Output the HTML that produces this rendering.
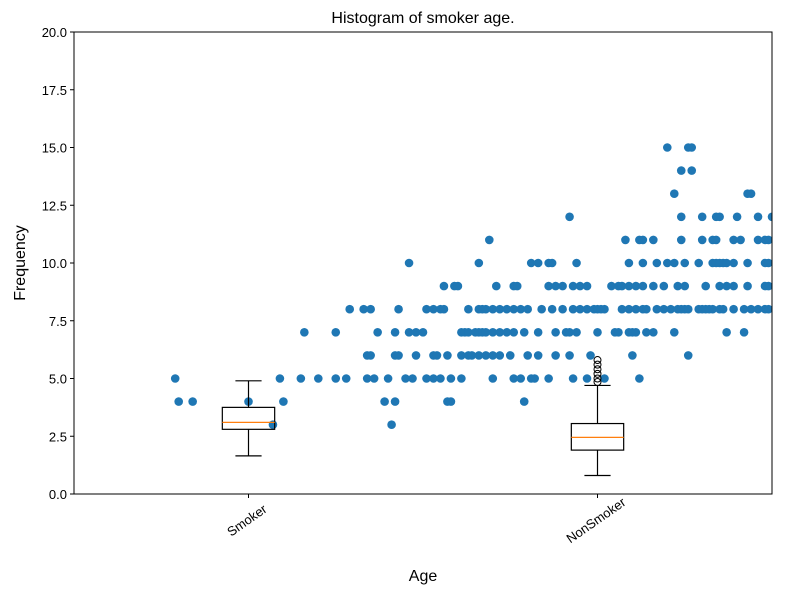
<!DOCTYPE html>
<html><head><meta charset="utf-8"><style>
body{margin:0;background:#fff;}
svg text{font-family:"Liberation Sans","DejaVu Sans",sans-serif;}
</style></head><body>
<svg id="chart" width="785" height="595" xmlns="http://www.w3.org/2000/svg">
<rect width="785" height="595" fill="#fff"/>
<text x="423" y="23" font-size="16" text-anchor="middle">Histogram of smoker age.</text>
<g id="plot"></g>
<text x="423" y="581" font-size="16" text-anchor="middle">Age</text>
<text transform="translate(25,263) rotate(-90)" font-size="16" text-anchor="middle">Frequency</text>
</svg>
<script>
const categories=["Smoker","NonSmoker"];
const yTicks=[0,2.5,5,7.5,10,12.5,15,17.5,20];
const yTickLabels=["0.0","2.5","5.0","7.5","10.0","12.5","15.0","17.5","20.0"];
const levels=[3,4,5,6,7,8,9,10,11,12,13,14,15];
const levelAges=[
[1.07,1.41],
[0.80,0.84,1.00,1.10,1.39,1.42,1.57,1.58,1.79],
[0.79,1.09,1.15,1.20,1.25,1.28,1.34,1.36,1.40,1.45,1.47,1.51,1.53,1.55,1.58,1.61,1.70,1.76,1.78,1.81,1.82,1.86,1.93,1.97,2.02,2.12],
[1.34,1.35,1.42,1.43,1.48,1.53,1.54,1.57,1.61,1.63,1.64,1.66,1.68,1.70,1.72,1.75,1.80,1.83,1.88,1.92,1.98,2.10,2.26],
[1.16,1.25,1.37,1.42,1.46,1.48,1.50,1.61,1.62,1.63,1.65,1.66,1.67,1.68,1.70,1.72,1.74,1.76,1.79,1.83,1.88,1.91,1.92,1.94,2.00,2.05,2.06,2.09,2.10,2.11,2.14,2.16,2.22,2.37,2.42],
[1.29,1.33,1.35,1.43,1.51,1.53,1.55,1.56,1.63,1.66,1.67,1.68,1.70,1.72,1.74,1.76,1.78,1.80,1.84,1.87,1.90,1.93,1.95,1.97,1.99,2.00,2.01,2.02,2.07,2.09,2.11,2.13,2.14,2.17,2.19,2.21,2.23,2.25,2.24,2.26,2.29,2.30,2.31,2.32,2.33,2.35,2.36,2.39,2.42,2.44,2.46,2.48,2.49],
[1.56,1.59,1.60,1.71,1.76,1.77,1.86,1.88,1.90,1.93,1.95,1.97,2.04,2.06,2.07,2.09,2.11,2.13,2.16,2.19,2.23,2.25,2.31,2.35,2.37,2.39,2.43,2.48,2.49],
[1.46,1.66,1.81,1.83,1.86,1.87,1.94,2.09,2.13,2.17,2.20,2.22,2.25,2.29,2.33,2.34,2.35,2.36,2.37,2.39,2.43,2.48,2.49],
[1.69,2.08,2.12,2.13,2.16,2.24,2.30,2.33,2.34,2.39,2.41,2.46,2.48,2.49],
[1.92,2.24,2.30,2.34,2.35,2.40,2.46,2.50],
[2.22,2.43,2.44],
[2.24,2.27],
[2.20,2.26,2.27]];
const boxWhiskerLow=[1.65,0.8];
const boxQ1=[2.8,1.9];
const boxMedian=[3.1,2.45];
const boxQ3=[3.75,3.05];
const boxWhiskerHigh=[4.9,4.7];
const nonSmokerFliers=[4.85,5.0,5.2,5.4,5.6,5.8];

const L=74,R=772,T=32,B=494,X0=0.5,X1=2.5,Y0=0,Y1=20;
const xs=v=>L+(v-X0)/(X1-X0)*(R-L);
const ys=v=>B-(v-Y0)/(Y1-Y0)*(B-T);
const NS="http://www.w3.org/2000/svg";
const g=document.getElementById('plot');
function mk(tag,at){const e=document.createElementNS(NS,tag);for(const k in at)e.setAttribute(k,at[k]);return e;}
const defs=mk('defs',{});const cp=mk('clipPath',{id:'clip'});cp.appendChild(mk('rect',{x:L,y:T,width:R-L,height:B-T}));defs.appendChild(cp);g.appendChild(defs);
const pts=mk('g',{'clip-path':'url(#clip)'});


g.appendChild(pts);
levels.forEach((lv,i)=>{levelAges[i].forEach(a=>{
 const c=mk('circle',{cx:xs(a),cy:ys(lv),r:4.3,fill:'#1f77b4'});
 
 
 pts.appendChild(c);});});
categories.forEach((cat,i)=>{
 const cx=xs(i+1),hw=(xs(1.075)-xs(1));
 const bg=mk('g',{stroke:'#000','stroke-width':1.2,fill:'none'});
 
 
 bg.appendChild(mk('rect',{x:cx-hw,y:ys(boxQ3[i]),width:2*hw,height:ys(boxQ1[i])-ys(boxQ3[i])}));
 bg.appendChild(mk('line',{x1:cx,x2:cx,y1:ys(boxQ1[i]),y2:ys(boxWhiskerLow[i])}));
 bg.appendChild(mk('line',{x1:cx,x2:cx,y1:ys(boxQ3[i]),y2:ys(boxWhiskerHigh[i])}));
 bg.appendChild(mk('line',{x1:cx-hw/2,x2:cx+hw/2,y1:ys(boxWhiskerLow[i]),y2:ys(boxWhiskerLow[i])}));
 bg.appendChild(mk('line',{x1:cx-hw/2,x2:cx+hw/2,y1:ys(boxWhiskerHigh[i]),y2:ys(boxWhiskerHigh[i])}));
 bg.appendChild(mk('line',{x1:cx-hw,x2:cx+hw,y1:ys(boxMedian[i]),y2:ys(boxMedian[i]),stroke:'#ff7f0e'}));
 g.appendChild(bg);
});
nonSmokerFliers.forEach(f=>{
 const c=mk('circle',{cx:xs(2),cy:ys(f),r:3.5,fill:'none',stroke:'#000','stroke-width':1});
 
 
 g.appendChild(c);});
const fr=mk('rect',{x:L,y:T,width:R-L,height:B-T,fill:'none',stroke:'#000','stroke-width':1});


g.appendChild(fr);
yTicks.forEach((t,i)=>{
 const y=ys(t);
 g.appendChild(mk('line',{x1:L-4,x2:L,y1:y,y2:y,stroke:'#000'}));
 const tx=mk('text',{x:L-7,y:y+5,'font-size':13,'text-anchor':'end'});
 
 
 tx.textContent=yTickLabels[i];g.appendChild(tx);
});
categories.forEach((c,i)=>{
 const x=xs(i+1);
 g.appendChild(mk('line',{x1:x,x2:x,y1:B,y2:B+4,stroke:'#000'}));
 const tx=mk('text',{'font-size':13,'text-anchor':'middle',transform:`translate(${x+1},${B+30}) rotate(-35)`});
 
 
 tx.textContent=c;g.appendChild(tx);
});
</script>
</body></html>
